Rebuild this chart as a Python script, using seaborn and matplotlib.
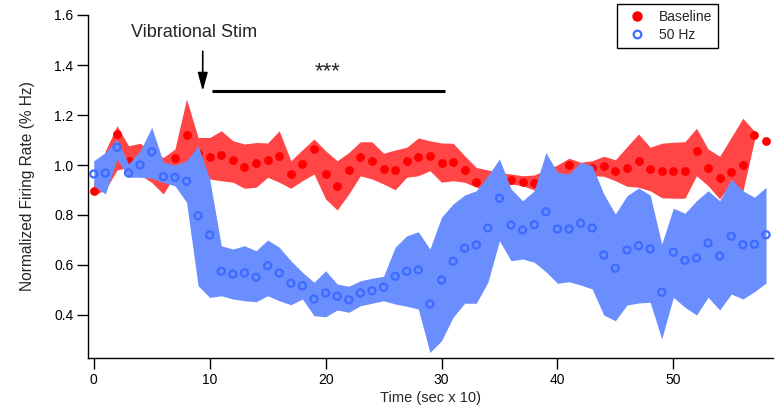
import numpy as np
import seaborn as sns
import matplotlib.pyplot as plt
from matplotlib.lines import Line2D

# time bins (sec x 10)
time = list(range(59))

# Baseline: mean and shaded band
base_mean = [0.897, 0.98, 1.124, 1.017, 1.02, 1.00, 0.98, 1.027, 1.12, 1.05,
             1.033, 1.039, 1.019, 0.992, 1.007, 1.02, 1.037, 0.964, 1.004, 1.064,
             0.964, 0.917, 0.98, 1.033, 1.017, 0.984, 0.981, 1.015, 1.033, 1.035,
             1.008, 1.011, 0.98, 0.933, 0.93, 0.93, 0.941, 0.931, 0.93, 0.95,
             0.95, 1.0, 0.98, 0.987, 0.995, 0.977, 0.987, 1.017, 0.984, 0.977,
             0.977, 0.977, 1.055, 0.987, 0.948, 0.971, 1.0, 1.12, 1.095]
base_hi = [0.93, 1.057, 1.157, 1.077, 1.087, 1.05, 1.03, 1.064, 1.264, 1.11,
           1.11, 1.137, 1.097, 1.084, 1.09, 1.088, 1.137, 1.017, 1.061, 1.104,
           1.057, 1.017, 1.05, 1.093, 1.093, 1.047, 1.06, 1.071, 1.108, 1.097,
           1.088, 1.087, 1.037, 0.99, 0.98, 0.97, 0.964, 0.957, 0.96, 0.98,
           1.0, 1.027, 1.011, 1.017, 1.035, 1.021, 1.073, 1.124, 1.071, 1.087,
           1.091, 1.093, 1.147, 1.064, 1.035, 1.111, 1.187, 1.135, np.nan]
base_lo = [0.88, 0.90, 0.98, 0.99, 0.96, 0.93, 0.884, 0.96, 0.98, 0.97,
           0.944, 0.937, 0.931, 0.907, 0.911, 0.951, 0.931, 0.907, 0.937, 0.964,
           0.864, 0.82, 0.884, 0.957, 0.944, 0.924, 0.901, 0.951, 0.957, 0.977,
           0.931, 0.937, 0.931, 0.911, 0.90, 0.90, 0.924, 0.917, 0.90, 0.90,
           0.92, 0.964, 0.96, 0.957, 0.955, 0.937, 0.915, 0.911, 0.897, 0.869,
           0.867, 0.867, 0.957, 0.917, 0.864, 0.931, 0.895, 1.10, np.nan]

# 50 Hz stimulation: mean and shaded band
hz_mean = [0.964, 0.968, 1.071, 0.968, 1.0, 1.053, 0.953, 0.951, 0.935, 0.797,
           0.72, 0.575, 0.564, 0.568, 0.551, 0.597, 0.568, 0.527, 0.517, 0.464,
           0.488, 0.475, 0.461, 0.488, 0.497, 0.511, 0.555, 0.575, 0.58, 0.444,
           0.54, 0.615, 0.667, 0.68, 0.748, 0.867, 0.76, 0.74, 0.761, 0.813,
           0.744, 0.744, 0.767, 0.748, 0.64, 0.587, 0.66, 0.677, 0.664, 0.491,
           0.651, 0.619, 0.628, 0.688, 0.636, 0.715, 0.681, 0.683, 0.721]
hz_hi = [1.017, 1.05, 1.104, 1.004, 1.057, 1.151, 1.011, 1.0, 1.017, 1.077,
         0.944, 0.677, 0.664, 0.677, 0.657, 0.70, 0.671, 0.617, 0.571, 0.531,
         0.577, 0.524, 0.515, 0.537, 0.547, 0.555, 0.671, 0.717, 0.733, 0.664,
         0.791, 0.844, 0.88, 0.897, 0.957, 1.024, 0.904, 0.857, 0.897, 1.05,
         0.971, 0.964, 1.011, 0.997, 0.884, 0.804, 0.877, 0.908, 0.88, 0.684,
         0.827, 0.807, 0.857, 0.897, 0.857, 0.944, 0.897, 0.871, 0.911]
hz_lo = [0.917, 0.884, 1.024, 0.951, 0.951, 0.947, 0.93, 0.917, 0.851, 0.517,
         0.47, 0.477, 0.464, 0.457, 0.453, 0.477, 0.457, 0.441, 0.464, 0.397,
         0.393, 0.42, 0.411, 0.437, 0.447, 0.457, 0.444, 0.435, 0.424, 0.25,
         0.297, 0.391, 0.447, 0.447, 0.531, 0.697, 0.617, 0.624, 0.611, 0.573,
         0.527, 0.533, 0.52, 0.504, 0.40, 0.377, 0.44, 0.448, 0.451, 0.304,
         0.471, 0.431, 0.40, 0.471, 0.42, 0.484, 0.464, 0.493, 0.528]

red_band = '#FF4545'
red_dot = '#FF0000'
blue_band = '#6B8EFF'
blue_dot = '#3D6BFF'

sns.set_style('ticks')
plt.rcParams['font.family'] = ['Liberation Sans', 'DejaVu Sans']

fig = plt.figure(figsize=(7.78, 4.17), dpi=100)
ax = fig.add_axes([88 / 778, 1 - 358 / 417, 685 / 778, 343 / 417])

# baseline band + points, then 50 Hz band + points on top
ax.fill_between(time, base_lo, base_hi, color=red_band, lw=0, zorder=1)
sns.scatterplot(x=time, y=base_mean, ax=ax, color=red_dot, s=40,
                linewidth=0, zorder=2)
ax.fill_between(time, hz_lo, hz_hi, color=blue_band, lw=0, zorder=3)
sns.scatterplot(x=time, y=hz_mean, ax=ax, s=26, zorder=4)
pts = ax.collections[-1]
pts.set_facecolor('none')
pts.set_edgecolor(blue_dot)
pts.set_linewidth(1.6)

ax.set_xlim(-0.5, 58.6)
ax.set_ylim(0.228, 1.6)
ax.set_xticks([0, 10, 20, 30, 40, 50])
ax.set_yticks([0.4, 0.6, 0.8, 1.0, 1.2, 1.4, 1.6])
ax.yaxis.set_major_formatter(plt.FormatStrFormatter('%.1f'))
ax.tick_params(length=8, width=1, labelsize=10, colors='black', pad=2.5)
for s in ['left', 'bottom']:
    ax.spines[s].set_linewidth(1)
    ax.spines[s].set_color('black')
sns.despine(ax=ax)

ax.set_xlabel('Time (sec x 10)', fontsize=10.5, labelpad=3)
ax.set_ylabel('Normalized Firing Rate (% Hz)', fontsize=11.2, labelpad=14)

# stimulus annotation
ax.text(3.25, 1.532, 'Vibrational Stim', fontsize=13, ha='left', va='center')
ax.annotate('', xy=(9.4, 1.296), xytext=(9.4, 1.455),
            arrowprops=dict(arrowstyle='-|>,head_width=0.15,head_length=0.55',
                            color='black', lw=1.2, mutation_scale=20,
                            shrinkA=0, shrinkB=0))
ax.plot([10.2, 30.3], [1.297, 1.297], color='black', lw=2.2, solid_capstyle='butt')
ax.text(20.2, 1.375, '***', fontsize=16, ha='center', va='center')

handles = [Line2D([], [], marker='o', ls='', color=red_dot, markersize=6.5),
           Line2D([], [], marker='o', ls='', markerfacecolor='none',
                  markeredgecolor=blue_dot, markeredgewidth=1.6, markersize=5.5)]
leg = ax.legend(handles, ['Baseline', '50 Hz'], loc='upper left',
                bbox_to_anchor=(617 / 778, 1 - 4 / 417), bbox_transform=fig.transFigure,
                frameon=True, fancybox=False, framealpha=1, edgecolor='black',
                fontsize=10, borderpad=0.45, labelspacing=0.25,
                handlelength=2.0, handletextpad=0.55, borderaxespad=0)
leg.get_frame().set_linewidth(1)

fig.savefig('out.png', dpi=100)
